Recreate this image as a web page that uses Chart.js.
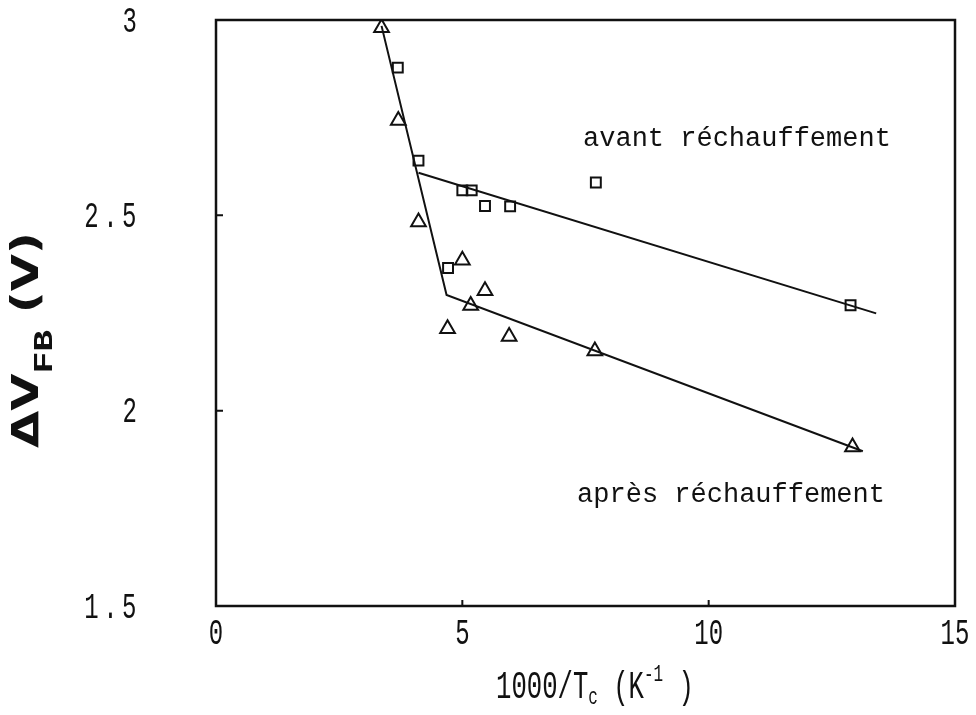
<!DOCTYPE html>
<html>
<head>
<meta charset="utf-8">
<script src="https://cdn.jsdelivr.net/npm/chart.js@4.4.1/dist/chart.umd.min.js"></script>
<style>
  html, body { margin: 0; padding: 0; background: #fff; }
  #wrap { width: 976px; height: 715px; }
</style>
</head>
<body>
<div id="wrap"><canvas id="chart" width="976" height="715"></canvas></div>
<script>
// Values — x = 1000/Tc (K^-1), y = ΔV_FB (V)
const avantX = [3.69, 4.11, 4.71, 5.00, 5.19, 5.46, 5.97, 7.71, 12.88];
const avantY = [2.878, 2.640, 2.365, 2.564, 2.564, 2.524, 2.523, 2.584, 2.270];

const apresX = [3.36, 3.70, 4.11, 4.70, 5.00, 5.17, 5.46, 5.95, 7.69, 12.92];
const apresY = [2.980, 2.743, 2.483, 2.210, 2.385, 2.269, 2.307, 2.190, 2.153, 1.907];

// fitted lines drawn in the figure
const avantFitX = [4.11, 13.40];
const avantFitY = [2.609, 2.249];
const apresFitX = [3.36, 4.68, 13.13];
const apresFitY = [2.985, 2.296, 1.896];

const xTicks = [0, 5, 10, 15];
const yTicks = [1.5, 2, 2.5, 3];

const toPts = (xs, ys) => xs.map((x, i) => ({ x: x, y: ys[i] }));

const INK = '#111';

// draw a list of [text, font, offset] runs one after another
function drawRuns(ctx, runs, x0, base) {
  let cx = x0;
  runs.forEach(r => {
    ctx.font = r[1];
    ctx.fillText(r[0], cx, base + r[2]);
    cx += ctx.measureText(r[0]).width;
  });
}
function runsWidth(ctx, runs) {
  let w = 0;
  runs.forEach(r => { ctx.font = r[1]; w += ctx.measureText(r[0]).width; });
  return w;
}

// narrow plotter-style tick label
function tickText(ctx, txt, px, py, align) {
  ctx.save();
  ctx.translate(px, py);
  ctx.scale(0.75, 1.15);
  ctx.font = '32px "Liberation Mono"';
  ctx.textAlign = align;
  ctx.textBaseline = 'middle';
  ctx.fillText(txt, 0, 0);
  ctx.restore();
}

// frame, inward ticks, tick labels, annotations and axis titles
const decor = {
  id: 'decor',
  afterDraw(chart) {
    const { ctx, chartArea: a, scales: { x, y } } = chart;
    ctx.save();
    ctx.strokeStyle = INK;
    ctx.fillStyle = INK;

    // frame
    ctx.lineWidth = 2.5;
    ctx.strokeRect(a.left, a.top, a.right - a.left, a.bottom - a.top);

    // inward ticks
    ctx.lineWidth = 2;
    ctx.beginPath();
    xTicks.slice(1, -1).forEach(v => {
      const px = x.getPixelForValue(v);
      ctx.moveTo(px, a.bottom); ctx.lineTo(px, a.bottom - 6);
    });
    yTicks.slice(1, -1).forEach(v => {
      const py = y.getPixelForValue(v);
      ctx.moveTo(a.left, py); ctx.lineTo(a.left + 7, py);
    });
    ctx.stroke();

    // tick labels
    xTicks.forEach(v => {
      tickText(ctx, String(v), x.getPixelForValue(v), a.bottom + 28, 'center');
    });
    yTicks.forEach(v => {
      const dec = v % 1 !== 0;
      ctx.save();
      ctx.letterSpacing = dec ? '6px' : '0px';
      tickText(ctx, dec ? v.toFixed(1) : String(v), a.left - 79 + (dec ? 4 : 0), y.getPixelForValue(v) + 2, 'right');
      ctx.restore();
    });

    // curve annotations
    ctx.font = '27px "Liberation Mono"';
    ctx.textAlign = 'left';
    ctx.textBaseline = 'middle';
    ctx.fillText('avant réchauffement', x.getPixelForValue(7.45), y.getPixelForValue(2.697));
    ctx.fillText('après réchauffement', x.getPixelForValue(7.33), y.getPixelForValue(1.785));

    // x title: 1000/Tc (K^-1 )
    ctx.save();
    ctx.translate(595, 698);
    ctx.scale(0.8, 1.2);
    ctx.textAlign = 'left';
    ctx.textBaseline = 'alphabetic';
    const main = '32px "Liberation Mono"', small = '20px "Liberation Mono"';
    const runs = [['1000/T', main, 0], ['c', small, 5], [' (K', main, 0], ['-1', small, -14], [' )', main, 0]];
    drawRuns(ctx, runs, -runsWidth(ctx, runs) / 2, 0);
    ctx.restore();

    // y title: ΔV_FB (V)
    ctx.save();
    ctx.translate(38, 340);
    ctx.rotate(-Math.PI / 2);
    ctx.scale(1.3, 1);
    ctx.textAlign = 'left';
    ctx.textBaseline = 'alphabetic';
    const big = 'bold 37px "DejaVu Sans"', sub = 'bold 28px "Liberation Mono"';
    const yruns = [['ΔV', big, 0], ['FB', sub, 14], [' (V)', big, 0]];
    drawRuns(ctx, yruns, -runsWidth(ctx, yruns) / 2, 0);
    ctx.restore();

    ctx.restore();
  }
};

new Chart(document.getElementById('chart'), {
  type: 'scatter',
  data: {
    datasets: [
      {
        label: 'avant fit',
        data: toPts(avantFitX, avantFitY),
        showLine: true,
        borderColor: INK,
        borderWidth: 2,
        pointRadius: 0,
        tension: 0
      },
      {
        label: 'après fit',
        data: toPts(apresFitX, apresFitY),
        showLine: true,
        borderColor: INK,
        borderWidth: 2,
        pointRadius: 0,
        tension: 0
      },
      {
        label: 'avant réchauffement',
        data: toPts(avantX, avantY),
        pointStyle: 'rect',
        pointRadius: 7,
        borderColor: INK,
        borderWidth: 2,
        backgroundColor: 'rgba(0,0,0,0)'
      },
      {
        label: 'après réchauffement',
        data: toPts(apresX, apresY),
        pointStyle: 'triangle',
        pointRadius: 8.5,
        borderColor: INK,
        borderWidth: 2,
        backgroundColor: 'rgba(0,0,0,0)'
      }
    ]
  },
  options: {
    responsive: false,
    animation: false,
    layout: { padding: { top: 20, right: 21, left: 0, bottom: 0 } },
    plugins: {
      legend: { display: false },
      tooltip: { enabled: false }
    },
    scales: {
      x: {
        type: 'linear',
        min: 0, max: 15,
        grid: { display: false, drawTicks: false },
        border: { display: false },
        ticks: { display: false },
        afterFit: s => { s.height = 109; }
      },
      y: {
        type: 'linear',
        min: 1.5, max: 3,
        grid: { display: false, drawTicks: false },
        border: { display: false },
        ticks: { display: false },
        afterFit: s => { s.width = 216; }
      }
    }
  },
  plugins: [decor]
});
</script>
</body>
</html>
